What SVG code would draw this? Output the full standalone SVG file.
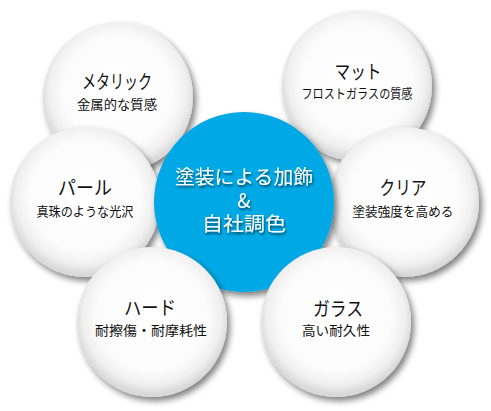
<svg xmlns="http://www.w3.org/2000/svg" width="491" height="411" viewBox="0 0 491 411">
<defs>
<radialGradient id="ball" cx="50%" cy="46%" r="52%">
<stop offset="0" stop-color="#ffffff"/>
<stop offset="0.7" stop-color="#fcfcfc"/>
<stop offset="0.88" stop-color="#f0f0f0"/>
<stop offset="1" stop-color="#d9d9d9"/>
</radialGradient>
<filter id="sh" x="-20%" y="-20%" width="150%" height="150%">
<feGaussianBlur in="SourceAlpha" stdDeviation="3"/>
<feOffset dx="3" dy="4" result="b"/>
<feComponentTransfer><feFuncA type="linear" slope="0.5"/></feComponentTransfer>
<feMerge><feMergeNode/><feMergeNode in="SourceGraphic"/></feMerge>
</filter>
<filter id="tsh" x="-10%" y="-10%" width="130%" height="130%">
<feGaussianBlur in="SourceAlpha" stdDeviation="1"/>
<feOffset dx="1" dy="1.5"/>
<feComponentTransfer><feFuncA type="linear" slope="0.6"/></feComponentTransfer>
<feMerge><feMergeNode/><feMergeNode in="SourceGraphic"/></feMerge>
</filter>
</defs>
<style>
.ball{fill:url(#ball);filter:url(#sh)}
.hub{fill:#00A9E6;filter:url(#sh)}
text{font-family:"Noto Sans CJK JP","Noto Sans",sans-serif;text-anchor:middle;fill:#111}
.t{font-size:19px}
.s{font-size:13px}
.c{font-size:19.5px;fill:#fff;filter:url(#tsh)}
</style>
<rect width="491" height="411" fill="#fff"/>
<g id="metallic">
<circle class="ball" cx="118" cy="97" r="75"/>
<text class="t" x="117" y="89" textLength="70" lengthAdjust="spacingAndGlyphs">メタリック</text>
<text class="s" x="117" y="109" textLength="80" lengthAdjust="spacingAndGlyphs">金属的な質感</text>
</g>
<g id="matte">
<circle class="ball" cx="357" cy="86" r="75"/>
<text class="t" x="358" y="79" textLength="47" lengthAdjust="spacingAndGlyphs">マット</text>
<text class="s" x="357" y="98" textLength="111" lengthAdjust="spacingAndGlyphs">フロストガラスの質感</text>
</g>
<g id="pearl">
<circle class="ball" cx="85" cy="202" r="75"/>
<text class="t" x="85" y="195" textLength="54" lengthAdjust="spacingAndGlyphs">パール</text>
<text class="s" x="85" y="216" textLength="97" lengthAdjust="spacingAndGlyphs">真珠のような光沢</text>
</g>
<g id="clear">
<circle class="ball" cx="404" cy="202" r="75"/>
<text class="t" x="403" y="195" textLength="47" lengthAdjust="spacingAndGlyphs">クリア</text>
<text class="s" x="403" y="216" textLength="101" lengthAdjust="spacingAndGlyphs">塗装強度を高める</text>
</g>
<g id="hub">
<circle class="hub" cx="244" cy="202" r="90"/>
<text class="c"><tspan x="244" y="184" textLength="138" lengthAdjust="spacingAndGlyphs">塗装による加飾</tspan><tspan x="244" y="207.5">&amp;</tspan><tspan x="244" y="231" textLength="84" lengthAdjust="spacingAndGlyphs">自社調色</tspan></text>
</g>
<g id="hard">
<circle class="ball" cx="152" cy="322" r="75"/>
<text class="t" x="150" y="315" textLength="52" lengthAdjust="spacingAndGlyphs">ハード</text>
<text class="s" x="151" y="335" textLength="112" lengthAdjust="spacingAndGlyphs">耐擦傷・耐摩耗性</text>
</g>
<g id="glass">
<circle class="ball" cx="336" cy="322" r="75"/>
<text class="t" x="338" y="316" textLength="50" lengthAdjust="spacingAndGlyphs">ガラス</text>
<text class="s" x="336" y="335" textLength="68" lengthAdjust="spacingAndGlyphs">高い耐久性</text>
</g>
<g id="connectors"/>
</svg>
